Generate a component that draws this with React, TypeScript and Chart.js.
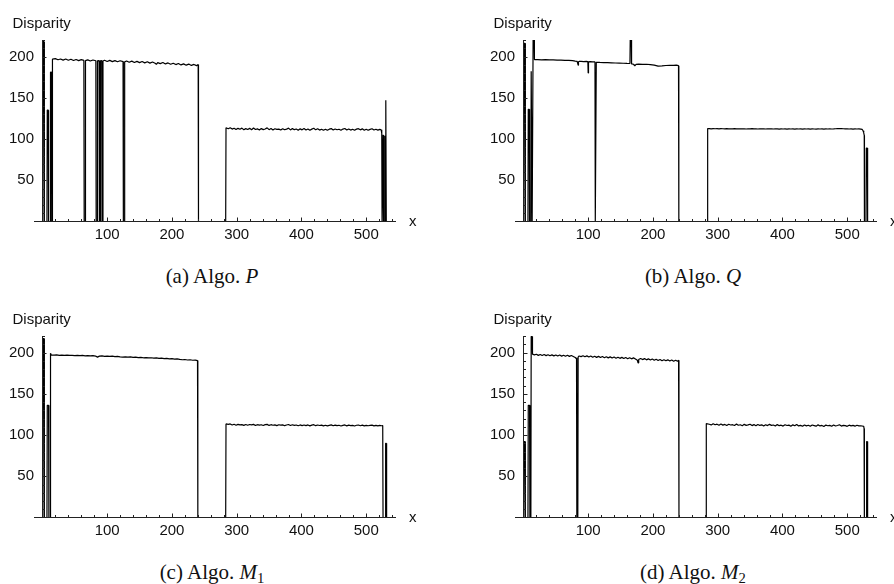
import React, { useEffect, useRef } from "react";
import { Chart, registerables } from "chart.js";

Chart.register(...registerables);

// ---------- axes, ticks, titles ----------
const xRange = [-13, 546];
const yRange = [0, 220];
const xTickLabels = [100, 200, 300, 400, 500];
const yTickLabels = [50, 100, 150, 200];
const yAxisTitle = "Disparity";
const xAxisTitle = "x";

// shared sample positions along the lower plateau (x)
const lowerGridX = [
  287, 290, 293, 296, 299, 302, 305, 308, 311, 314,
  317, 320, 323, 326, 329, 332, 335, 338, 341, 344,
  347, 350, 353, 356, 359, 362, 365, 368, 371, 374,
  377, 380, 383, 386, 389, 392, 395, 398, 401, 404,
  407, 410, 413, 416, 419, 422, 425, 428, 431, 434,
  437, 440, 443, 446, 449, 452, 455, 458, 461, 464,
  467, 470, 473, 476, 479, 482, 485, 488, 491, 494,
  497, 500, 503, 506, 509, 512, 515, 518,
  521,
];

// ---------- (a) Algo. P ----------
const aStartX = [0.5, 1, 2.5, 3, 7, 7.5, 9, 9.5, 12, 12.5, 14, 14.5, 15];
const aStartY = [0, 218, 218, 0, 0, 135, 135, 0, 0, 181, 181, 0, 0];
const aUpperX = [
  15.5, 20, 24, 28, 32, 36, 40, 44, 48, 52, 56, 60, 64, 64.5, 66, 66.5, 70, 74, 78, 82.5,
  83, 84.5, 85, 87.5, 88, 89, 89.5, 91.5, 92, 93, 93.5, 96, 100, 104, 108, 112, 116, 120, 124.5, 125,
  126.5, 127, 130, 134, 138, 142, 146, 150, 154, 158, 162, 166, 170, 174, 176, 178, 182, 186, 190, 194,
  198, 202, 206, 210, 214, 218, 222, 226, 230, 234, 238, 240.5, 241,
];
const aUpperY = [
  196.8, 197.4, 196.0, 197.0, 195.6, 196.9, 195.5, 196.7, 195.2, 196.4, 195.0, 196.2, 195.3, 0, 0, 195.0, 195.9, 194.5, 195.8, 194.8,
  0, 0, 194.7, 195.1, 0, 0, 194.8, 195.2, 0, 0, 194.6, 195.5, 194.0, 195.3, 193.8, 195.0, 193.6, 194.8, 193.8, 0,
  0, 193.5, 194.5, 193.1, 194.4, 192.8, 194.1, 192.6, 193.9, 192.3, 193.6, 192.0, 193.3, 191.8, 190.4, 192.6, 191.4, 192.7, 191.0, 192.2,
  190.6, 191.9, 190.2, 191.5, 189.8, 191.1, 189.5, 190.8, 189.2, 190.4, 188.9, 190.3, 0,
];
const aLowerStartX = [283, 283.5];
const aLowerStartY = [0, 113.6];
const aLowerY = [
  112.4, 113.6, 112.0, 113.1, 111.5, 112.9, 111.8, 113.2, 111.3, 112.6,
  111.6, 112.9, 111.2, 113.4, 111.5, 112.3, 110.9, 112.6, 111.4, 112.1,
  113.5, 111.3, 112.7, 111.0, 112.4, 111.6, 112.0, 110.8, 112.5, 111.2,
  111.9, 113.2, 111.0, 112.6, 111.3, 112.1, 110.6, 112.3, 111.1, 112.7,
  110.9, 112.2, 110.7, 112.0, 113.0, 111.1, 112.4, 110.8, 111.9, 110.5,
  111.8, 110.6, 111.9, 112.6, 110.9, 112.1, 111.2, 111.8, 110.6, 112.0,
  112.7, 111.0, 112.2, 110.8, 111.9, 110.7, 112.0, 112.5, 111.1, 112.3,
  110.7, 111.9, 110.6, 111.7, 112.4, 110.9, 111.8, 110.8,
  111.6,
];
const aEndX = [523, 524, 524.5, 525.5, 526, 526.5, 527, 528, 528.5, 529, 529.5, 530, 530.5, 531, 533];
const aEndY = [111.2, 107, 0, 0, 105, 105, 0, 0, 104, 0, 0, 147, 147, 0, 0];

// ---------- (b) Algo. Q ----------
const bStartX = [0.5, 1, 2.5, 3, 7, 7.5, 9, 9.5, 11.5, 12, 13, 13.5, 14.5, 15, 16.5];
const bStartY = [0, 216, 216, 0, 0, 136, 136, 0, 0, 182, 182, 0, 0, 225, 225];
const bUpperX = [
  17, 22, 28, 34, 40, 46, 52, 58, 64, 70, 76, 80, 83, 84.5, 85, 86, 89, 93, 97, 99.5,
  100, 100.5, 103, 107, 110.5, 111, 112, 112.5, 118, 124, 130, 136, 142, 148, 154, 160, 164.5, 165, 166.5, 167,
  170, 172, 174, 178, 184, 190, 196, 202, 208, 214, 220, 226, 232, 236, 239.5, 240,
];
const bUpperY = [
  196.3, 196.2, 196.0, 196.1, 195.8, 195.9, 195.6, 195.7, 195.3, 195.4, 195.0, 194.5, 194.2, 189.5, 193.6, 194.0, 194.1, 193.9, 194.0, 193.8,
  180, 193.5, 193.8, 193.5, 193.4, 0, 0, 193.0, 192.8, 192.6, 192.5, 192.3, 192.1, 192.0, 191.8, 191.6, 191.5, 225, 225, 191.0,
  190.6, 188.8, 190.4, 190.7, 190.5, 190.6, 190.2, 189.6, 188.4, 188.6, 189.1, 189.4, 189.3, 189.5, 188.9, 0,
];
const bLowerStartX = [284, 284.5];
const bLowerStartY = [0, 112.6];
const bLowerY = [
  112.5, 112.3, 112.6, 112.4, 112.5, 112.3, 112.6, 112.4, 112.2, 112.5,
  112.3, 112.4, 112.2, 112.5, 112.3, 112.4, 112.2, 112.4, 112.3, 112.1,
  112.4, 112.3, 112.5, 112.2, 112.3, 112.1, 112.4, 112.2, 112.3, 112.1,
  112.3, 112.2, 112.4, 112.1, 112.3, 112.2, 112.0, 112.3, 112.1, 112.2,
  112.0, 112.3, 112.1, 112.2, 112.0, 112.3, 112.1, 112.2, 112.0, 112.2,
  112.1, 112.3, 112.0, 112.2, 112.1, 112.0, 112.2, 112.1, 112.3, 112.0,
  112.2, 112.1, 112.3, 112.1, 112.2, 112.4, 112.6, 112.5, 112.7, 112.4,
  112.2, 112.3, 112.1, 112.2, 112.0, 112.2, 112.1, 112.3,
  112.0,
];
const bEndX = [523, 524.5, 525.5, 526.3, 526.6, 529, 529.5, 531, 531.5, 533];
const bEndY = [111.6, 110.0, 107.5, 104.5, 0, 0, 89, 89, 0, 0];

// ---------- (c) Algo. M1 ----------
const cStartX = [0.5, 1, 2.5, 3, 7, 7.5, 9.5, 10, 12, 12.5, 13.5];
const cStartY = [0, 217, 217, 0, 0, 136, 136, 0, 0, 199, 197.2];
const cUpperX = [
  18, 22, 26, 30, 34, 38, 42, 46, 50, 54, 58, 62, 66, 70, 74, 78, 82, 85, 88, 92,
  96, 100, 104, 108, 112, 116, 120, 124, 128, 132, 136, 140, 144, 148, 152, 156, 160, 164, 168, 172,
  176, 180, 184, 188, 192, 196, 200, 204, 208, 212, 216, 220, 224, 228, 232, 236, 239.5, 240,
];
const cUpperY = [
  196.8, 197.1, 196.6, 196.9, 196.5, 196.8, 196.4, 196.6, 196.2, 196.5, 196.1, 196.4, 196.0, 196.2, 195.8, 196.1, 195.7, 194.4, 195.6, 195.9,
  195.4, 195.7, 195.2, 195.5, 195.0, 195.3, 194.8, 194.5, 194.8, 194.3, 194.6, 194.1, 194.3, 193.8, 194.1, 193.6, 193.9, 193.4, 193.6, 193.1,
  193.4, 192.9, 193.1, 192.6, 192.9, 192.3, 192.5, 191.9, 192.2, 191.6, 191.2, 191.5, 190.9, 191.2, 190.6, 190.8, 190.2, 0,
];
const cLowerStartX = [283, 283.5];
const cLowerStartY = [0, 113.4];
const cLowerY = [
  112.8, 113.4, 112.1, 113.0, 111.9, 112.9, 112.2, 112.6, 111.7, 112.8,
  111.8, 112.7, 112.2, 112.9, 111.6, 112.5, 111.9, 112.4, 111.5, 112.6,
  112.9, 111.6, 112.5, 111.8, 112.3, 111.4, 112.4, 111.9, 112.3, 111.3,
  112.1, 112.7, 111.5, 112.4, 111.6, 112.1, 111.2, 112.2, 111.4, 112.1,
  111.3, 112.2, 111.1, 112.0, 112.5, 111.3, 112.1, 111.5, 111.9, 111.0,
  111.8, 111.1, 111.7, 112.3, 111.2, 112.0, 111.3, 111.8, 110.9, 111.7,
  112.2, 111.1, 111.9, 111.3, 111.7, 110.9, 111.8, 112.1, 111.2, 111.9,
  111.0, 111.7, 111.2, 111.6, 112.0, 111.1, 111.7, 111.0,
  111.6,
];
const cEndX = [523, 525.5, 526, 529.5, 530, 531, 531.5, 533];
const cEndY = [111.2, 111.4, 0, 0, 90, 90, 0, 0];

// ---------- (d) Algo. M2 ----------
const dStartX = [0.5, 1, 2.5, 3, 7, 7.5, 9.5, 10, 11.5, 12, 13.5, 14];
const dStartY = [0, 92, 92, 0, 0, 136, 136, 0, 0, 219.5, 219.5, 198];
const dUpperX = [
  17, 20, 23, 26, 29, 32, 35, 38, 41, 44, 47, 50, 53, 56, 59, 62, 65, 68, 71, 74,
  77, 80, 81, 82, 82.5, 84, 84.5, 86, 89, 92, 95, 98, 101, 104, 107, 110, 113, 116, 119, 122,
  125, 128, 131, 134, 137, 140, 143, 146, 149, 152, 155, 158, 161, 164, 167, 170, 173, 176, 177, 178,
  181, 184, 187, 190, 193, 196, 199, 202, 205, 208, 211, 214, 217, 220, 223, 226, 229, 232, 235, 238,
  239.6, 240.2,
];
const dUpperY = [
  197.2, 197.9, 196.5, 197.6, 196.4, 197.5, 196.2, 197.3, 196.0, 197.1, 195.9, 197.0, 195.7, 196.9, 195.6, 196.7, 195.4, 196.6, 195.3, 196.4,
  195.2, 194.0, 192.8, 193.5, 0, 0, 194.5, 195.8, 195.0, 196.1, 194.8, 195.9, 194.5, 195.7, 194.3, 195.5, 194.1, 195.3, 193.9, 195.1,
  193.7, 194.9, 193.5, 194.7, 193.3, 194.5, 193.1, 194.3, 192.9, 194.1, 192.7, 193.9, 192.5, 193.7, 192.3, 193.5, 192.2, 190.5, 187.5, 191.5,
  192.8, 191.4, 192.6, 191.1, 192.3, 190.9, 192.1, 190.6, 191.8, 190.4, 191.6, 190.1, 191.3, 189.9, 191.1, 189.6, 190.8, 189.4, 190.6, 189.3,
  190.6, 0,
];
const dLowerStartX = [282, 282.4];
const dLowerStartY = [0, 113.8];
const dLowerY = [
  113.0, 112.2, 113.7, 112.4, 113.1, 111.9, 113.3, 112.0, 112.8, 111.6,
  113.0, 112.1, 112.5, 111.5, 113.2, 111.8, 112.4, 111.3, 112.9, 111.7,
  112.2, 113.1, 111.4, 112.6, 111.2, 112.8, 111.6, 112.3, 110.9, 112.5,
  111.4, 112.9, 111.7, 112.1, 110.9, 112.6, 111.3, 111.9, 110.8, 112.4,
  111.5, 112.0, 110.7, 112.3, 111.2, 112.8, 111.0, 111.7, 110.6, 112.2,
  111.1, 111.8, 110.5, 112.1, 111.4, 110.7, 112.3, 111.0, 111.6, 110.4,
  112.0, 111.2, 111.7, 110.6, 112.2, 110.9, 111.5, 112.4, 110.8, 111.6,
  111.3, 110.5, 111.9, 111.1, 111.6, 110.7, 111.8, 111.0,
  111.2,
];
const dEndX = [523, 525.5, 526, 526.5, 529.5, 530, 531, 531.5, 533];
const dEndY = [110.9, 110.5, 108, 0, 0, 92, 92, 0, 0];

// ---------- layout constants ----------
const CANVAS_H = 250;
const PLOT_TOP = 40;
const PLOT_BOTTOM = 221.5;
const PLOT_LEFT = 34;
const PLOT_RIGHT = 396;
const SANS = '"Liberation Sans", Arial, Helvetica, sans-serif';
const SERIF = '"Liberation Serif", "Times New Roman", Times, serif';

const axesPlugin = {
  id: "mmaAxes",
  afterDatasetsDraw(chart: any) {
    const { ctx, chartArea } = chart;
    const xs = chart.scales.x;
    const ys = chart.scales.y;
    const x0 = Math.round(xs.getPixelForValue(0)) + 0.5;
    const y0 = ys.getPixelForValue(0);
    const yTop = ys.getPixelForValue(yRange[1]);
    ctx.save();
    ctx.strokeStyle = "#222";
    ctx.lineWidth = 1;
    ctx.beginPath();
    ctx.moveTo(chartArea.left, y0);
    ctx.lineTo(chartArea.right, y0);
    ctx.moveTo(x0, y0);
    ctx.lineTo(x0, yTop);
    // x ticks (major every 100, minor every 20), pointing inward
    for (let v = 20; v < xRange[1]; v += 20) {
      const px = Math.round(xs.getPixelForValue(v)) + 0.5;
      const len = v % 100 === 0 ? 4 : 2.5;
      ctx.moveTo(px, y0);
      ctx.lineTo(px, y0 - len);
    }
    // y ticks (major every 50, minor every 10)
    for (let v = 10; v <= yRange[1]; v += 10) {
      const py = Math.round(ys.getPixelForValue(v)) + 0.5;
      const len = v % 50 === 0 ? 4 : 2.5;
      ctx.moveTo(x0, py);
      ctx.lineTo(x0 + len, py);
    }
    ctx.stroke();
    ctx.fillStyle = "#111";
    ctx.font = `15px ${SANS}`;
    ctx.textAlign = "left";
    ctx.textBaseline = "alphabetic";
    ctx.fillText(yAxisTitle, 12.5, 27.7);
    ctx.textBaseline = "middle";
    ctx.fillText(xAxisTitle, chartArea.right + 13, y0);
    ctx.restore();
  },
};

type PanelProps = { xs: number[]; ys: number[]; left: number; top: number; width: number };

function PlotPanel({ xs, ys, left, top, width }: PanelProps) {
  const ref = useRef<HTMLCanvasElement | null>(null);
  useEffect(() => {
    const canvas = ref.current;
    if (!canvas) return;
    const points = xs.map((x, i) => ({ x, y: ys[i] }));
    const chart = new Chart(canvas, {
      type: "line",
      data: {
        datasets: [
          {
            data: points,
            borderColor: "#000",
            borderWidth: 1.2,
            pointRadius: 0,
            tension: 0,
            fill: false,
            borderJoinStyle: "bevel",
          } as any,
        ],
      },
      options: {
        animation: false,
        responsive: false,
        devicePixelRatio: 1,
        events: [],
        layout: { padding: { left: 0, top: PLOT_TOP, right: width - PLOT_RIGHT, bottom: 0 } },
        plugins: { legend: { display: false }, tooltip: { enabled: false }, title: { display: false } },
        scales: {
          x: {
            type: "linear",
            min: xRange[0],
            max: xRange[1],
            afterBuildTicks: (s: any) => {
              s.ticks = xTickLabels.map((v) => ({ value: v }));
            },
            afterFit: (s: any) => {
              s.height = CANVAS_H - PLOT_BOTTOM;
            },
            grid: { display: false, drawTicks: false },
            border: { display: false },
            ticks: {
              color: "#111",
              font: { family: SANS, size: 15 },
              padding: 4,
              maxRotation: 0,
              minRotation: 0,
              autoSkip: false,
            },
          },
          y: {
            type: "linear",
            min: yRange[0],
            max: yRange[1],
            afterBuildTicks: (s: any) => {
              s.ticks = yTickLabels.map((v) => ({ value: v }));
            },
            afterFit: (s: any) => {
              s.width = PLOT_LEFT;
            },
            grid: { display: false, drawTicks: false },
            border: { display: false },
            ticks: {
              color: "#111",
              font: { family: SANS, size: 15 },
              padding: 0,
              autoSkip: false,
            },
          },
        },
      } as any,
      plugins: [axesPlugin],
    });
    return () => chart.destroy();
  }, [xs, ys, width]);
  return (
    <canvas
      ref={ref}
      width={width}
      height={CANVAS_H}
      style={{ position: "absolute", left, top, width, height: CANVAS_H, display: "block" }}
    />
  );
}

const seriesA = {
  xs: [...aStartX, ...aUpperX, ...aLowerStartX, ...lowerGridX, ...aEndX],
  ys: [...aStartY, ...aUpperY, ...aLowerStartY, ...aLowerY, ...aEndY],
};
const seriesB = {
  xs: [...bStartX, ...bUpperX, ...bLowerStartX, ...lowerGridX, ...bEndX],
  ys: [...bStartY, ...bUpperY, ...bLowerStartY, ...bLowerY, ...bEndY],
};
const seriesC = {
  xs: [...cStartX, ...cUpperX, ...cLowerStartX, ...lowerGridX, ...cEndX],
  ys: [...cStartY, ...cUpperY, ...cLowerStartY, ...cLowerY, ...cEndY],
};
const seriesD = {
  xs: [...dStartX, ...dUpperX, ...dLowerStartX, ...lowerGridX, ...dEndX],
  ys: [...dStartY, ...dUpperY, ...dLowerStartY, ...dLowerY, ...dEndY],
};

const COL2 = 481;
const ROW2 = 296;

function Caption({ cx, cy, children }: { cx: number; cy: number; children: React.ReactNode }) {
  return (
    <div
      style={{
        position: "absolute",
        left: cx - 150,
        top: cy - 11,
        width: 300,
        textAlign: "center",
        fontFamily: SERIF,
        fontSize: 21,
        lineHeight: "21px",
        color: "#111",
        whiteSpace: "nowrap",
      }}
    >
      {children}
    </div>
  );
}

const subStyle: React.CSSProperties = { fontSize: "0.7em", verticalAlign: "-0.3em", lineHeight: 0, fontStyle: "normal" };

export default function App() {
  return (
    <div
      style={{
        position: "absolute",
        left: 0,
        top: 0,
        width: 894,
        height: 584,
        background: "#fff",
        overflow: "hidden",
      }}
    >
      <PlotPanel xs={seriesA.xs} ys={seriesA.ys} left={0} top={0} width={447} />
      <PlotPanel xs={seriesB.xs} ys={seriesB.ys} left={COL2} top={0} width={894 - COL2} />
      <PlotPanel xs={seriesC.xs} ys={seriesC.ys} left={0} top={ROW2} width={447} />
      <PlotPanel xs={seriesD.xs} ys={seriesD.ys} left={COL2} top={ROW2} width={894 - COL2} />
      <Caption cx={212} cy={277}>
        (a) Algo. <i>P</i>
      </Caption>
      <Caption cx={212 + COL2} cy={277}>
        (b) Algo. <i>Q</i>
      </Caption>
      <Caption cx={212} cy={277 + ROW2}>
        (c) Algo. <i>M</i>
        <sub style={subStyle}>1</sub>
      </Caption>
      <Caption cx={212 + COL2} cy={277 + ROW2}>
        (d) Algo. <i>M</i>
        <sub style={subStyle}>2</sub>
      </Caption>
    </div>
  );
}
